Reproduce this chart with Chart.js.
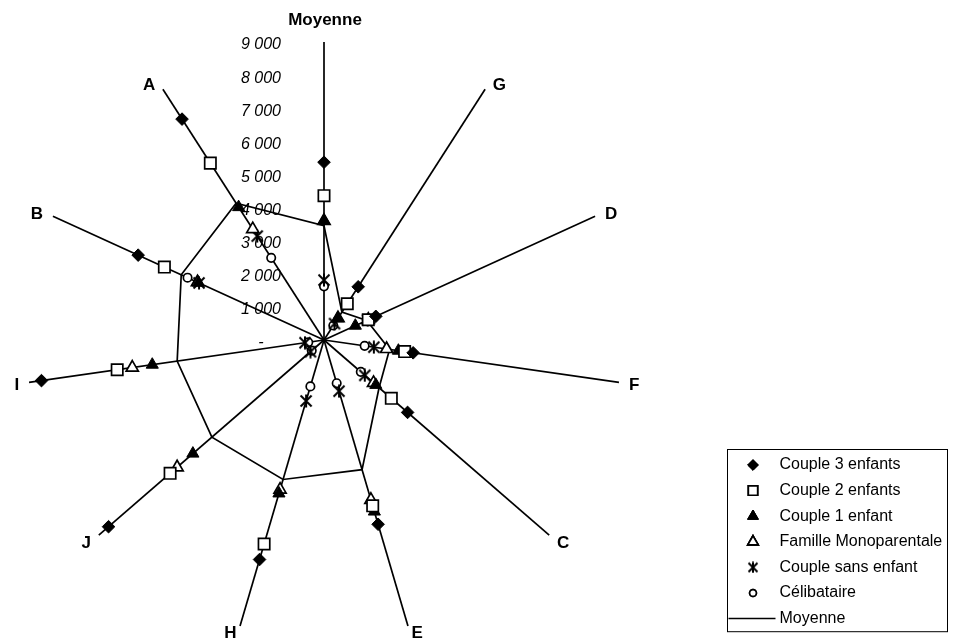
<!DOCTYPE html>
<html>
<head>
<meta charset="utf-8">
<script src="https://cdn.jsdelivr.net/npm/chart.js@4/dist/chart.umd.min.js"></script>
<style>
  html, body { margin: 0; padding: 0; background: #ffffff; }
  #wrap { width: 953px; height: 643px; }
</style>
</head>
<body>
<div id="wrap"><canvas id="radar" width="953" height="643"></canvas></div>
<script>
// Axes, clockwise from the top
const categories = ['Moyenne', 'G', 'D', 'F', 'C', 'E', 'H', 'J', 'I', 'B', 'A'];

// Household types
const couple3Enfants    = [5370, 1910, 1720, 2720, 3340, 5800, 6910, 8610, 8620, 6170, 7930];
const couple2Enfants    = [4360, 1300, 1470, 2460, 2690, 5220, 6420, 6150, 6310, 5300, 6350];
const couple1Enfant     = [3600,  780, 1040, 2270, 2070, 5400, 4830, 5240, 5240, 4170, 4770];
const familleMono       = [3600,  780, 1470, 1910, 1980, 5030, 4710, 5870, 5850, 4200, 3980];
const coupleSansEnfant  = [1810,  590, 1450, 1520, 1630, 1610, 1920,  540,  580, 4150, 3730];
const celibataire       = [1620,  520, 1420, 1240, 1470, 1360, 1460,  490,  480, 4530, 2950];
const moyenne           = [3450, 1000, 1420, 2000, 2200, 4080, 4390, 4480, 4480, 4740, 4910];

// Radial scale ticks
const tickValues = [0, 1000, 2000, 3000, 4000, 5000, 6000, 7000, 8000, 9000];
const tickLabels = ['-', '1 000', '2 000', '3 000', '4 000', '5 000', '6 000', '7 000', '8 000', '9 000'];

const FONT = '"Liberation Sans", Arial, Helvetica, sans-serif';

// Six-armed asterisk marker for "Couple sans enfant"
function makeAsterisk(size, width) {
  const c = document.createElement('canvas');
  c.width = size; c.height = size;
  const g = c.getContext('2d');
  g.strokeStyle = '#000';
  g.lineWidth = width;
  const m = size / 2, d = size / 2 - 1.5;
  g.beginPath();
  g.moveTo(m - d, m - d); g.lineTo(m + d, m + d);
  g.moveTo(m + d, m - d); g.lineTo(m - d, m + d);
  g.moveTo(m, 0.5); g.lineTo(m, size - 0.5);
  g.stroke();
  return c;
}
const asterisk = makeAsterisk(14, 2);
const asteriskSmall = makeAsterisk(12, 2);

function markerSet(label, data, style, radius, filled, legendRadius, legendStyle) {
  return {
    label: label,
    data: data,
    showLine: false,
    fill: false,
    borderColor: '#000',
    backgroundColor: filled ? '#000' : '#fff',
    pointStyle: style,
    pointRadius: radius,
    pointHoverRadius: radius,
    pointBorderColor: '#000',
    pointBackgroundColor: filled ? '#000' : '#fff',
    pointBorderWidth: filled ? 1 : 1.7,
    legendRadius: legendRadius,
    legendStyle: legendStyle || style
  };
}

const datasets = [
  markerSet('Couple 3 enfants', couple3Enfants, 'rectRot', 6.3, true, 5.3),
  markerSet('Couple 2 enfants', couple2Enfants, 'rect', 8, false, 6.6),
  markerSet('Couple 1 enfant', couple1Enfant, 'triangle', 7, true, 6.2),
  markerSet('Famille Monoparentale', familleMono, 'triangle', 7, false, 6),
  markerSet('Couple sans enfant', coupleSansEnfant, asterisk, 5, false, 5, asteriskSmall),
  markerSet('Célibataire', celibataire, 'circle', 4.2, false, 3.4),
  {
    label: 'Moyenne',
    data: moyenne,
    showLine: true,
    fill: false,
    borderColor: '#000',
    borderWidth: 1.7,
    backgroundColor: 'rgba(0,0,0,0)',
    pointRadius: 0,
    pointHoverRadius: 0,
    legendLine: true
  }
];

// Tick labels, axis titles and the boxed legend
const decorations = {
  id: 'decorations',
  afterDatasetsDraw(chart) {
    const ctx = chart.ctx;
    const scale = chart.scales.r;
    ctx.save();

    // tick labels along the top axis, offset to its left
    ctx.fillStyle = '#000';
    ctx.font = 'italic 16px ' + FONT;
    ctx.textAlign = 'center';
    ctx.textBaseline = 'middle';
    tickValues.forEach((v, i) => {
      const p = scale.getPointPositionForValue(0, v);
      ctx.fillText(tickLabels[i], p.x - 63, p.y + 3);
    });

    // axis titles
    ctx.font = 'bold 17px ' + FONT;
    categories.forEach((name, i) => {
      const ang = scale.getIndexAngle(i);
      const end = scale.getPointPosition(i, scale.drawingArea);
      const s = Math.sin(ang), c = Math.cos(ang);
      let x, y;
      if (Math.abs(s) < 0.05) {
        ctx.textAlign = 'center';
        x = end.x + 1;
        y = end.y - 22 * c;
      } else {
        ctx.textAlign = s > 0 ? 'left' : 'right';
        const gap = 1 + 9 * Math.abs(s) + 2 * Math.max(c, 0);
        x = end.x + gap * Math.sign(s);
        y = end.y + (c < 0 ? (-c) * (4 + 10 * Math.abs(s)) : -6 * c) + 1;
      }
      ctx.fillText(name, x, y);
    });

    // legend
    const left = 727.5, top = 449.5, width = 220, rowH = 25.6;
    const rows = chart.data.datasets.length;
    const height = rowH * rows + 3;
    ctx.lineWidth = 1;
    ctx.strokeStyle = '#000';
    ctx.strokeRect(left, top, width, height);
    ctx.font = '16px ' + FONT;
    ctx.textAlign = 'left';
    ctx.textBaseline = 'middle';
    chart.data.datasets.forEach((ds, i) => {
      const y = top + 15.5 + i * rowH;
      if (ds.legendLine) {
        ctx.beginPath();
        ctx.lineWidth = 1.5;
        ctx.moveTo(left + 1, y);
        ctx.lineTo(left + 48, y);
        ctx.stroke();
      } else {
        ctx.fillStyle = ds.pointBackgroundColor;
        ctx.strokeStyle = '#000';
        ctx.lineWidth = ds.pointBorderWidth;
        Chart.helpers.drawPoint(ctx, {
          pointStyle: ds.legendStyle,
          radius: ds.legendRadius,
          rotation: 0,
          borderWidth: ds.pointBorderWidth
        }, left + 25.5, y);
        ctx.fill();
        ctx.stroke();
      }
      ctx.fillStyle = '#000';
      ctx.fillText(ds.label, left + 52, y);
    });
    ctx.restore();
  }
};

new Chart(document.getElementById('radar'), {
  type: 'radar',
  data: { labels: categories, datasets: datasets },
  options: {
    responsive: false,
    animation: false,
    devicePixelRatio: 1,
    layout: { padding: { left: 26, right: 331, top: 42, bottom: 5 } },
    plugins: {
      legend: { display: false },
      tooltip: { enabled: false }
    },
    elements: { line: { tension: 0 } },
    scales: {
      r: {
        min: 0,
        max: 9000,
        ticks: { display: false, stepSize: 1000 },
        grid: { display: false },
        angleLines: { display: true, color: '#000', lineWidth: 1.7 },
        pointLabels: { display: false }
      }
    }
  },
  plugins: [decorations]
});
</script>
</body>
</html>
